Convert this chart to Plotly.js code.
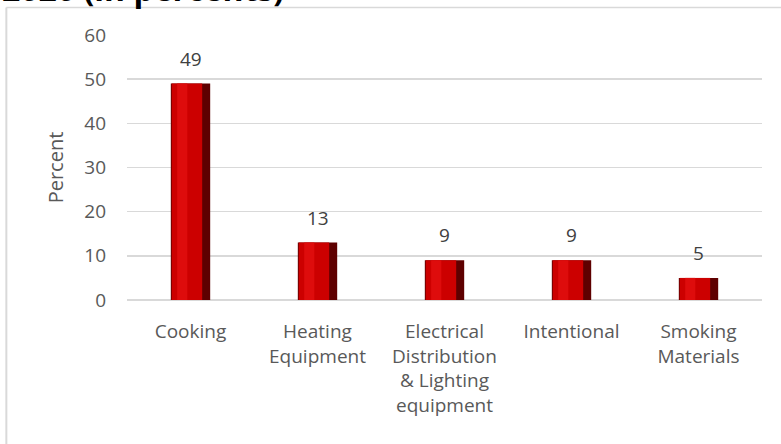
<!DOCTYPE html>
<html>
<head>
<meta charset="utf-8">
<script src="https://cdn.plot.ly/plotly-3.0.1.min.js"></script>
<style>html,body{margin:0;padding:0;background:#fff;}#chart{width:781px;height:444px;}</style>
</head>
<body>
<div id="chart"></div>
<script>
const categories = ["Cooking", "Heating<br>Equipment", "Electrical<br>Distribution<br>& Lighting<br>equipment", "Intentional", "Smoking<br>Materials"];
const percents = [49, 13, 9, 9, 5];
const yTicks = [0, 10, 20, 30, 40, 50, 60];
const titleText = "2020 (in percents)";
const yTitle = "Percent";

const FONT = "'Open Sans', 'Noto Sans', sans-serif";

const outer = {
  type: "bar", x: categories, y: percents,
  width: 0.31,
  marker: {color: "#5E0000", line: {width: 0}},
  hoverinfo: "skip", showlegend: false
};
const main = {
  type: "bar", x: categories, y: percents,
  width: 0.24, offset: -0.148,
  marker: {color: "#CC0000", line: {width: 0}},
  hoverinfo: "skip", showlegend: false
};
const highlight = {
  type: "bar", x: categories, y: percents,
  width: 0.08, offset: -0.105,
  marker: {color: "#DE0C0C", line: {width: 0}},
  hoverinfo: "skip", showlegend: false
};

const labelAnns = categories.map((c, i) => ({
  x: c, y: percents[i], xref: "x", yref: "y",
  text: String(percents[i]), showarrow: false,
  yanchor: "bottom", yshift: 10,
  font: {family: FONT, size: 19, color: "#404040"}
}));

const layout = {
  width: 781, height: 444,
  margin: {l: 127, r: 19, t: 35, b: 144},
  paper_bgcolor: "#ffffff", plot_bgcolor: "#ffffff",
  barmode: "overlay",
  font: {family: FONT, size: 19, color: "#595959"},
  xaxis: {
    type: "category", showgrid: false, zeroline: false,
    showline: false, ticks: "", ticklabelstandoff: 18,
    tickfont: {family: FONT, size: 19, color: "#595959"}
  },
  yaxis: {
    range: [0, 60], tickvals: yTicks, ticktext: yTicks.map(String),
    showgrid: true, gridcolor: "#D9D9D9", gridwidth: 1.5,
    zeroline: true, zerolinecolor: "#D9D9D9", zerolinewidth: 1.5,
    showline: false, ticks: "", ticklabelstandoff: 20,
    tickfont: {family: FONT, size: 19, color: "#595959"},
    title: {text: yTitle, standoff: 15, font: {family: FONT, size: 20, color: "#595959"}}
  },
  shapes: [
    {type: "line", xref: "paper", yref: "paper", x0: -0.19, x1: -0.19, y0: -0.6, y1: 1.104,
     line: {color: "#D9D9D9", width: 2}},
    {type: "line", xref: "paper", yref: "paper", x0: -0.19, x1: 1.1, y0: 1.104, y1: 1.104,
     line: {color: "#D9D9D9", width: 1.5}}
  ],
  annotations: labelAnns.concat([{
    xref: "paper", yref: "paper", x: -0.2, y: 1.176, xanchor: "left", yanchor: "middle",
    text: "<b>" + titleText + "</b>", showarrow: false,
    font: {family: FONT, size: 32, color: "#000000"}
  }])
};

Plotly.newPlot("chart", [outer, main, highlight], layout, {staticPlot: true, displayModeBar: false});
</script>
</body>
</html>
